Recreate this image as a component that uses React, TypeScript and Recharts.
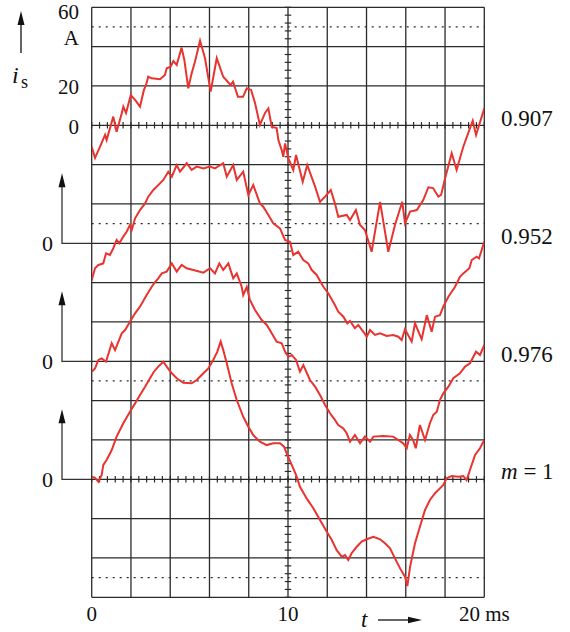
import React from 'react';
import { LineChart, Line, XAxis, YAxis, ReferenceLine } from 'recharts';

// ---- data: stator current traces, [t in ms, i_s in A] ----
const trace0907: [number, number][] = [
  [0, -10.9], [0.17, -16.6], [0.42, -11.0], [0.68, -4.9], [0.76, -7.5], [1.1, 4.4], [1.27, -3.3], [1.53, 6.1],
  [1.61, 9.5], [1.75, 6.3], [1.99, 15.4], [2.21, 12.9], [2.46, 9.5], [2.66, 18.0], [2.77, 20.5], [2.88, 24.7],
  [3.06, 23.9], [3.48, 23.4], [3.73, 25.6], [3.82, 29.0], [4.02, 29.8], [4.16, 32.7], [4.33, 30.7], [4.58, 39.5],
  [4.72, 33.2], [4.92, 18.8], [5.09, 26.4], [5.26, 32.3], [5.52, 43.0], [5.77, 34.2], [6.06, 17.1], [6.37, 34.1],
  [6.7, 24.7], [7.07, 20.5], [7.2, 22.2], [7.45, 14.5], [7.71, 14.5], [7.9, 18.8], [8.12, 18.0], [8.32, 11.3],
  [8.57, 0.2], [8.83, 6.3], [9.0, 8.6], [9.17, -0.7], [9.42, -1.4], [9.51, -7.5], [9.68, -12.6], [9.76, -16.0],
  [9.85, -9.2], [10.02, -16.8], [10.27, -22.7], [10.41, -15.1], [10.75, -28.7], [10.98, -20.2], [11.38, -31.2],
  [11.63, -38.9], [11.89, -36.3], [12.18, -32.9], [12.39, -39.7], [12.56, -46.5], [12.99, -45.6], [13.16, -48.2],
  [13.46, -43.1], [13.67, -50.7], [13.92, -53.2], [14.26, -64.3], [14.69, -38.9], [15.11, -64.3], [15.45, -50.7],
  [15.82, -38.9], [15.96, -49.8], [16.22, -43.9], [16.56, -43.1], [16.89, -38.0], [17.15, -31.5], [17.39, -31.9],
  [17.66, -36.3], [17.8, -35.4], [18.0, -27.0], [18.34, -14.2], [18.59, -22.7], [18.93, -10.9], [19.41, 2.3],
  [19.58, -4.9], [20.0, 8.6],
];

const trace0952: [number, number][] = [
  [0, -18.7], [0.17, -12.7], [0.34, -11.0], [0.59, -10.2], [0.73, -5.1], [0.93, -5.9], [1.1, -2.5], [1.27, 1.7],
  [1.41, 0], [1.61, 3.4], [1.78, 5.9], [1.95, 9.3], [2.04, 6.8], [2.21, 12.7], [2.46, 16.9], [2.72, 20.3],
  [2.88, 23.7], [3.14, 27.1], [3.39, 29.6], [3.65, 32.2], [3.9, 36.4], [4.08, 33.9], [4.33, 39.8], [4.5, 36.4],
  [4.84, 40.7], [5.09, 37.3], [5.35, 39.0], [5.69, 38.1], [6.02, 39.0], [6.28, 38.1], [6.7, 40.7], [6.88, 33.9],
  [7.21, 39.8], [7.39, 32.2], [7.72, 36.4], [7.98, 24.6], [8.23, 29.6], [8.57, 20.3], [8.74, 18.6], [9.0, 14.4],
  [9.25, 10.2], [9.59, 7.6], [9.85, 1.7], [10.1, 0.8], [10.27, -6.0], [10.52, -4.3], [10.78, -8.5], [11.03, -10.2],
  [11.21, -13.6], [11.46, -16.1], [11.8, -22.1], [12.05, -25.4], [12.39, -31.4], [12.56, -34.8], [12.82, -37.3],
  [13.02, -40.7], [13.16, -39.5], [13.41, -43.2], [13.58, -41.5], [13.84, -45.0], [14.01, -47.5], [14.18, -44.1],
  [14.43, -46.6], [14.69, -45.8], [15.03, -47.1], [15.36, -46.6], [15.62, -47.5], [15.79, -49.2], [15.96, -43.7],
  [16.3, -50.0], [16.47, -40.7], [16.81, -48.8], [17.07, -36.5], [17.32, -45.0], [17.49, -37.3], [17.74, -36.5],
  [17.91, -32.2], [18.17, -27.2], [18.51, -22.1], [18.76, -17.0], [18.93, -15.3], [19.24, -12.7], [19.36, -8.5],
  [19.61, -6.8], [19.73, -7.7], [20.0, 0.8],
];

const trace0976: [number, number][] = [
  [0, -5.3], [0.17, -3.6], [0.34, 0.7], [0.51, 1.5], [0.73, -0.2], [1.02, 9.2], [1.19, 5.7], [1.53, 14.2],
  [1.7, 15.9], [1.95, 20.1], [2.21, 24.4], [2.46, 27.8], [2.8, 33.7], [3.06, 37.9], [3.23, 40.3], [3.39, 42.2],
  [3.57, 44.7], [3.82, 45.6], [4.08, 49.8], [4.33, 45.6], [4.58, 49.0], [4.84, 47.3], [5.18, 46.4], [5.69, 45.1],
  [6.03, 47.3], [6.28, 44.7], [6.5, 49.8], [6.7, 46.4], [6.96, 49.8], [7.21, 42.2], [7.39, 44.7], [7.64, 37.9],
  [7.72, 33.7], [7.9, 37.8], [8.06, 31.2], [8.32, 26.1], [8.66, 21.0], [8.92, 18.5], [9.17, 14.2], [9.42, 10.0],
  [9.68, 9.2], [9.85, 4.9], [10.02, 2.3], [10.19, 3.2], [10.41, 0.7], [10.61, -5.3], [10.78, -1.9], [11.12, -9.5],
  [11.38, -12.9], [11.63, -17.1], [11.89, -22.2], [12.14, -26.4], [12.39, -29.8], [12.56, -32.4], [12.82, -34.1],
  [12.99, -36.6], [13.16, -40.9], [13.41, -37.5], [13.67, -41.7], [13.92, -38.3], [14.18, -40.9], [14.35, -38.3],
  [14.85, -38.0], [15.36, -38.3], [15.62, -40.0], [15.87, -41.7], [16.05, -44.2], [16.21, -37.5], [16.37, -40.0],
  [16.51, -44.2], [16.72, -32.4], [16.98, -40.0], [17.23, -31.5], [17.4, -27.3], [17.58, -25.6], [17.74, -19.7],
  [17.91, -16.3], [18.17, -12.9], [18.42, -8.6], [18.76, -6.1], [19.02, -2.7], [19.27, -1.0], [19.58, 4.9],
  [19.78, 3.2], [20.0, 8.3],
];

const trace1000: [number, number][] = [
  [0, 1.3], [0.17, 0.7], [0.34, -1.2], [0.51, 2.2], [0.59, 7.3], [0.76, 9.8], [1.02, 14.9], [1.27, 21.7],
  [1.61, 28.5], [1.95, 34.4], [2.21, 38.6], [2.46, 42.9], [2.72, 47.1], [2.97, 51.4], [3.17, 54.7], [3.39, 57.3],
  [3.65, 59.8], [3.82, 57.3], [4.08, 53.9], [4.33, 51.4], [4.67, 49.1], [5.09, 48.8], [5.35, 50.5], [5.69, 53.9],
  [5.94, 56.4], [6.19, 60.7], [6.4, 64.9], [6.57, 70.0], [6.7, 65.8], [6.88, 59.0], [7.13, 48.8], [7.39, 40.3],
  [7.72, 31.8], [7.98, 26.7], [8.23, 22.5], [8.57, 19.1], [8.91, 17.4], [9.25, 18.3], [9.59, 18.3], [9.8, 16.6],
  [9.93, 13.2], [10.19, 7.3], [10.41, 2.2], [10.61, -3.8], [10.95, -9.7], [11.29, -14.7], [11.63, -20.7],
  [11.97, -26.6], [12.23, -30.9], [12.48, -36.0], [12.74, -39.4], [12.9, -38.5], [13.07, -41.0], [13.24, -37.6],
  [13.5, -34.3], [13.75, -31.7], [14.01, -30.5], [14.35, -29.2], [14.69, -30.5], [14.94, -32.5], [15.2, -35.1],
  [15.45, -40.2], [15.71, -45.3], [15.96, -49.5], [16.08, -54.3], [16.22, -44.4], [16.47, -32.5], [16.72, -24.1],
  [16.98, -15.6], [17.23, -10.5], [17.49, -7.1], [17.74, -4.6], [17.91, -2.9], [18.08, 0.5], [18.34, 1.7],
  [18.68, 1.3], [18.93, 1.7], [19.1, -0.4], [19.27, 4.7], [19.53, 12.4], [19.78, 15.8], [20.0, 20.0],
];

const traces = [trace0907, trace0952, trace0976, trace1000];
const traceZeros = [0, -60, -120, -180]; // vertical offset of each trace's zero line (A)
const traceLabels = ['0.907', '0.952', '0.976'];
// [value position, text, baseline shift in px]
const leftTickLabels: [number, string, number][] = [[60, '60', 12], [45, 'A', 8.5], [20, '20', 8.5], [0, '0', 8.5]];
const timeTickLabels: [number, string][] = [[0, '0'], [10, '10'], [20, '20 ms']];
const dottedLevels = [50, -50, -130, -230];

// ---- axes / grid ----
const X_MIN = 0, X_MAX = 20, Y_MIN = -240, Y_MAX = 60;
const gridX = Array.from({ length: 11 }, (_, k) => k * 2);
const gridY = Array.from({ length: 16 }, (_, k) => Y_MIN + k * 20);
const minorX = Array.from({ length: 51 }, (_, k) => +(k * 0.4).toFixed(2));
const minorY = Array.from({ length: 76 }, (_, k) => Y_MIN + k * 4);
const tickedZeros = [0, -180];

const W = 570, H = 632;
const M = { top: 7.3, right: 85.7, bottom: 34.7, left: 91.7 };
const PW = W - M.left - M.right;
const PH = H - M.top - M.bottom;
const xPx = (t: number) => M.left + ((t - X_MIN) / (X_MAX - X_MIN)) * PW;
const yPx = (v: number) => M.top + ((Y_MAX - v) / (Y_MAX - Y_MIN)) * PH;

const RED = '#e8332f';
const GRID = '#2a2a2a';
const FONT = "Liberation Serif, Times New Roman, serif";

const tickHalfX = 3.2 / (PW / (X_MAX - X_MIN)); // in ms
const tickHalfY = 3.2 / (PH / (Y_MAX - Y_MIN)); // in A

export default function App() {
  const series = traces.map((tr, k) => tr.map(([t, v]) => ({ t, v: v + traceZeros[k] })));
  return (
    <div style={{ position: 'absolute', left: 0, top: 0, width: W, height: H, background: '#fff' }}>
      <LineChart width={W} height={H} margin={M}>
        <XAxis dataKey="t" type="number" domain={[X_MIN, X_MAX]} hide allowDataOverflow />
        <YAxis type="number" domain={[Y_MIN, Y_MAX]} hide allowDataOverflow />
        {dottedLevels.map((y) => (
          <ReferenceLine key={'d' + y} y={y} stroke={GRID} strokeWidth={1.2} strokeDasharray="2 5" />
        ))}
        {gridY.map((y) => (
          <ReferenceLine key={'h' + y} y={y} stroke={GRID} strokeWidth={1.3} />
        ))}
        {gridX.map((x) => (
          <ReferenceLine key={'v' + x} x={x} stroke={GRID} strokeWidth={1.3} />
        ))}
        {minorY.map((y) => (
          <ReferenceLine
            key={'my' + y}
            segment={[{ x: 10 - tickHalfX, y }, { x: 10 + tickHalfX, y }]}
            stroke={GRID}
            strokeWidth={1.2}
          />
        ))}
        {tickedZeros.flatMap((z) =>
          minorX.map((x) => (
            <ReferenceLine
              key={'mx' + z + '_' + x}
              segment={[{ x, y: z - tickHalfY }, { x, y: z + tickHalfY }]}
              stroke={GRID}
              strokeWidth={1.2}
            />
          ))
        )}
        {series.map((d, k) => (
          <Line
            key={'s' + k}
            data={d}
            dataKey="v"
            type="linear"
            dot={false}
            activeDot={false}
            stroke={RED}
            strokeWidth={2}
            isAnimationActive={false}
          />
        ))}
      </LineChart>
      <svg
        width={W}
        height={H}
        style={{ position: 'absolute', left: 0, top: 0, pointerEvents: 'none' }}
        fontFamily={FONT}
        fill="#111"
      >
        {/* top-left y axis arrow and label */}
        <line x1={21} y1={53} x2={21} y2={22} stroke="#111" strokeWidth={1.3} />
        <polygon points="21,11 17.5,25 24.5,25" fill="#111" />
        <text x={12} y={83} fontSize={24} fontStyle="italic">i</text>
        <text x={21} y={88} fontSize={18}>s</text>
        {leftTickLabels.map(([v, s, dy]) => (
          <text key={'lt' + s} x={79} y={yPx(v) + dy} fontSize={21} textAnchor="end">{s}</text>
        ))}
        {/* lower traces: L-shaped axis arrows with zero labels */}
        {traceZeros.slice(1).map((z) => (
          <g key={'ax' + z}>
            <polyline
              points={`${M.left},${yPx(z)} 62,${yPx(z)} 62,${yPx(z) - 58}`}
              fill="none"
              stroke="#333"
              strokeWidth={1.3}
            />
            <polygon points={`62,${yPx(z) - 70} 58.5,${yPx(z) - 56} 65.5,${yPx(z) - 56}`} fill="#111" />
            <text x={47.5} y={yPx(z) + 8} fontSize={22} textAnchor="middle">0</text>
          </g>
        ))}
        {/* right-hand labels */}
        {traceLabels.map((s, k) => (
          <text key={'rl' + s} x={501} y={yPx(traceZeros[k]) + 1} fontSize={23}>{s}</text>
        ))}
        <text x={501} y={yPx(traceZeros[3]) + 0} fontSize={23}>
          <tspan fontStyle="italic">m</tspan>
          <tspan> = 1</tspan>
        </text>
        {/* time axis labels */}
        {timeTickLabels.map(([t, s]) => (
          <text key={'tt' + s} x={xPx(t)} y={621} fontSize={21} textAnchor="middle">{s}</text>
        ))}
        <text x={361} y={627} fontSize={23} fontStyle="italic">t</text>
        <line x1={378} y1={620} x2={410} y2={620} stroke="#111" strokeWidth={1.3} />
        <polygon points="422,620 408,616.8 408,623.2" fill="#111" />
      </svg>
    </div>
  );
}
